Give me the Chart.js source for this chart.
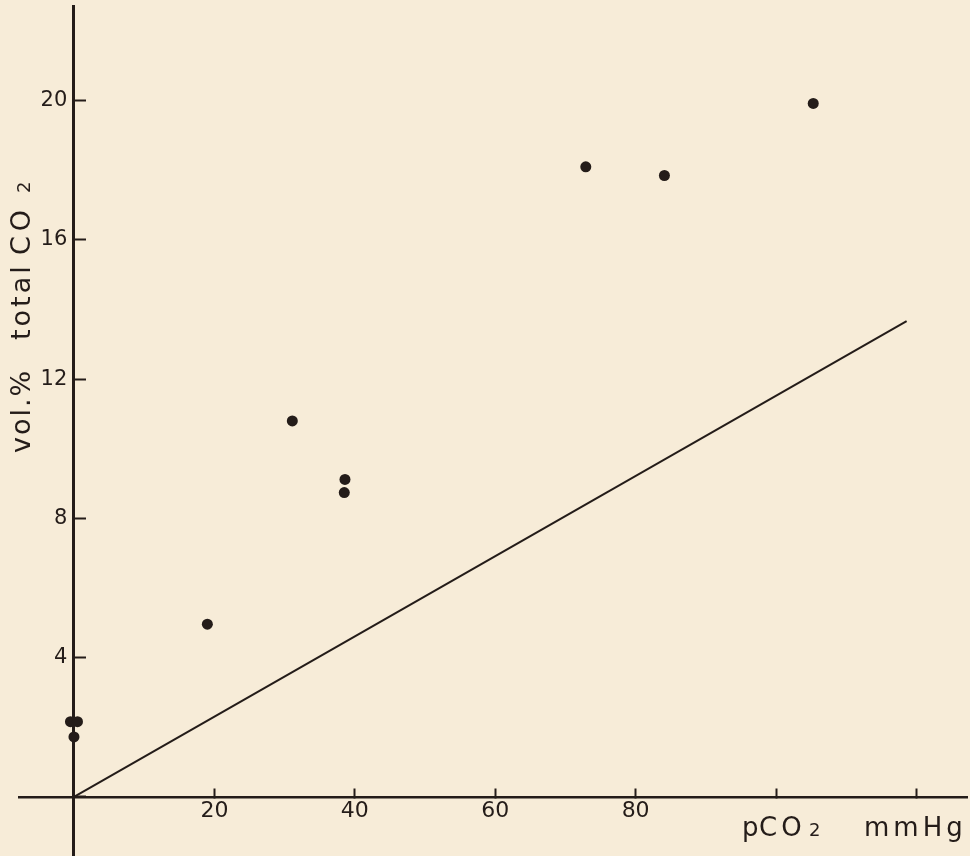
<!DOCTYPE html>
<html>
<head>
<meta charset="utf-8">
<script src="https://cdn.jsdelivr.net/npm/chart.js@4/dist/chart.umd.min.js"></script>
<style>
  html, body { margin: 0; padding: 0; background: #f7ecd8; }
  #wrap { width: 970px; height: 856px; }
</style>
</head>
<body>
<div id="wrap"><canvas id="c" width="970" height="856"></canvas></div>
<script>
// ---- data ----
const pco2      = [-0.5, 0.5, 0.0, 19.0, 31.1, 38.6, 38.5, 72.9, 84.1, 105.3];   // mmHg
const totalCO2  = [2.16, 2.16, 1.72, 4.96, 10.8, 9.12, 8.74, 18.1, 17.85, 19.92]; // vol.%
const lineX     = [0, 118.6];
const lineY     = [0, 13.67];
const xTickValues = [0, 20, 40, 60, 80, 100, 120];
const xTickLabels = ['', '20', '40', '60', '80', '', ''];
const yTickValues = [0, 4, 8, 12, 16, 20];
const yTickLabels = ['', '4', '8', '12', '16', '20'];
const xTitle = ['p', 'CO', '2', 'mmHg'];
const yTitle = ['vol.%', 'total', 'CO', '2'];

const INK = '#241c19';
const BG = '#f7ecd8';
const FONT = '"DejaVu Sans", sans-serif';

const points = pco2.map((x, i) => ({ x: x, y: totalCO2[i] }));
const linePts = lineX.map((x, i) => ({ x: x, y: lineY[i] }));

const bgPlugin = {
  id: 'bg',
  beforeDraw(chart) {
    const ctx = chart.ctx;
    ctx.save();
    ctx.fillStyle = BG;
    ctx.fillRect(0, 0, chart.width, chart.height);
    ctx.restore();
  }
};

const titlePlugin = {
  id: 'titles',
  afterDraw(chart) {
    const ctx = chart.ctx;
    ctx.save();
    ctx.fillStyle = INK;
    ctx.textBaseline = 'alphabetic';
    ctx.textAlign = 'left';
    // x title: "pCO2   mmHg" at bottom right
    ctx.letterSpacing = '0px';
    ctx.font = '26px ' + FONT;
    ctx.fillText(xTitle[0], 742, 836);
    ctx.letterSpacing = '4px';
    ctx.fillText(xTitle[1], 759, 836);
    ctx.letterSpacing = '0px';
    ctx.font = '18px ' + FONT;
    ctx.fillText(xTitle[2], 809, 836);
    ctx.letterSpacing = '4px';
    ctx.font = '26px ' + FONT;
    ctx.fillText(xTitle[3], 864, 836);
    // y title rotated
    ctx.translate(30, 453);
    ctx.rotate(-Math.PI / 2);
    ctx.letterSpacing = '2px';
    ctx.font = '27px ' + FONT;
    ctx.fillText(yTitle[0], 0, 0);
    ctx.letterSpacing = '3px';
    ctx.fillText(yTitle[1], 113, 0);
    ctx.letterSpacing = '5px';
    ctx.fillText(yTitle[2], 198, 0);
    ctx.letterSpacing = '0px';
    ctx.font = '18px ' + FONT;
    ctx.fillText(yTitle[3], 260, 0);
    ctx.restore();
  }
};

new Chart(document.getElementById('c'), {
  type: 'scatter',
  data: {
    datasets: [
      {
        type: 'scatter',
        data: points,
        pointRadius: 5.5,
        pointHoverRadius: 5.5,
        pointBackgroundColor: INK,
        pointBorderWidth: 0,
        clip: false
      },
      {
        type: 'line',
        data: linePts,
        borderColor: INK,
        borderWidth: 2,
        pointRadius: 0,
        fill: false,
        clip: false
      }
    ]
  },
  options: {
    responsive: false,
    animation: false,
    devicePixelRatio: 1,
    layout: { autoPadding: false, padding: { left: 19, right: 3, top: 6, bottom: 0 } },
    plugins: { legend: { display: false }, tooltip: { enabled: false } },
    scales: {
      x: {
        type: 'linear',
        position: { y: 0 },
        min: -7.83,
        max: 127.2,
        afterBuildTicks(scale) { scale.ticks = xTickValues.map(v => ({ value: v })); },
        afterFit(scale) { scale.paddingLeft = 0; scale.paddingRight = 0; scale.paddingTop = 0; scale.paddingBottom = 0; },
        ticks: {
          autoSkip: false,
          maxRotation: 0,
          padding: 11,
          color: INK,
          font: { family: FONT, size: 22 },
          callback: (v, i) => xTickLabels[i]
        },
        grid: {
          display: true,
          drawOnChartArea: false,
          drawTicks: true,
          tickLength: -10,
          tickWidth: 2,
          tickColor: INK
        },
        border: { display: true, color: INK, width: 2.5 }
      },
      y: {
        type: 'linear',
        position: { x: 0 },
        min: -1.70,
        max: 22.72,
        afterBuildTicks(scale) { scale.ticks = yTickValues.map(v => ({ value: v })); },
        afterFit(scale) { scale.paddingLeft = 0; scale.paddingRight = 0; scale.paddingTop = 0; scale.paddingBottom = 0; },
        ticks: {
          autoSkip: false,
          color: INK,
          font: { family: FONT, size: 21 },
          callback: (v, i) => yTickLabels[i] === '' ? '' : yTickLabels[i] + ' '
        },
        grid: {
          display: true,
          drawOnChartArea: false,
          drawTicks: true,
          tickLength: -14,
          tickWidth: 2,
          tickColor: INK
        },
        border: { display: true, color: INK, width: 3 }
      }
    }
  },
  plugins: [bgPlugin, titlePlugin]
});
</script>
</body>
</html>
